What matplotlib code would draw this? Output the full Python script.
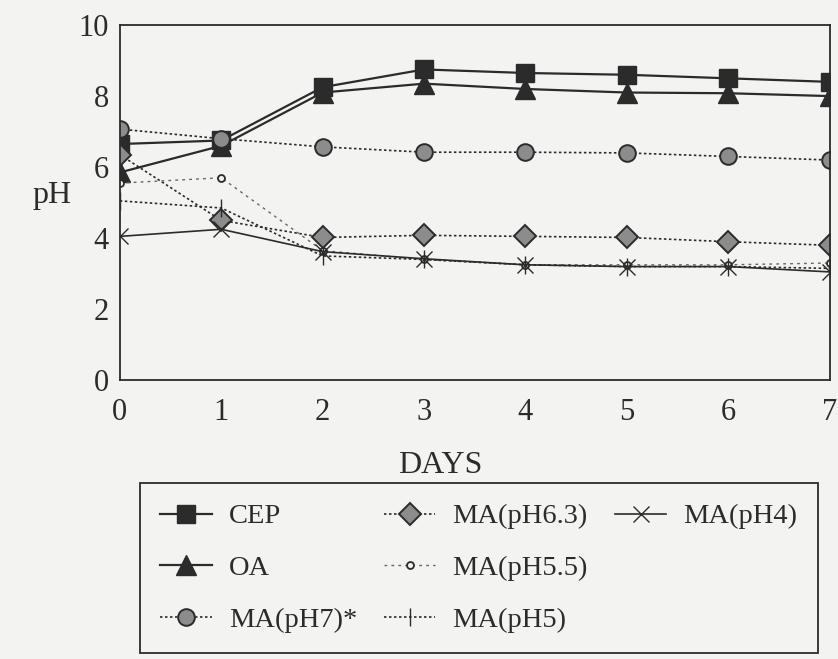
import matplotlib
matplotlib.use("Agg")
import matplotlib.pyplot as plt
from matplotlib.lines import Line2D

days = [0, 1, 2, 3, 4, 5, 6, 7]

cep = [6.65, 6.75, 8.25, 8.75, 8.65, 8.6, 8.5, 8.4]
oa = [5.85, 6.6, 8.1, 8.35, 8.2, 8.1, 8.08, 8.0]
ma_ph7 = [7.07, 6.8, 6.57, 6.42, 6.42, 6.4, 6.3, 6.2]
ma_ph63 = [6.35, 4.5, 4.02, 4.08, 4.05, 4.02, 3.9, 3.8]
ma_ph55 = [5.55, 5.7, 3.65, 3.4, 3.25, 3.25, 3.25, 3.3]
ma_ph5 = [5.05, 4.85, 3.5, 3.4, 3.25, 3.2, 3.2, 3.15]
ma_ph4 = [4.05, 4.25, 3.62, 3.42, 3.25, 3.2, 3.2, 3.05]

yticks = [0, 2, 4, 6, 8, 10]

ink = "#2b2b2b"
paper = "#f3f3f1"
hatch_grey = "#8c8c8c"

plt.rcParams["font.family"] = ["Liberation Serif", "DejaVu Serif"]

fig = plt.figure(figsize=(8.38, 6.59), dpi=100, facecolor=paper)
ax = fig.add_axes([0.143, 0.423, 0.847, 0.539])
ax.set_facecolor(paper)

dot = (0, (1.5, 1.5))
ax.plot(days, cep, color=ink, lw=1.6, ls="-", marker="s", ms=13,
        mfc=ink, mec=ink, label="CEP")
ax.plot(days, oa, color=ink, lw=1.6, ls="-", marker="^", ms=14,
        mfc=ink, mec=ink, label="OA")
ax.plot(days, ma_ph7, color=ink, lw=1.2, ls=dot, marker="o", ms=12,
        mfc=hatch_grey, mec=ink, mew=1.4, label="MA(pH7)*")
ax.plot(days, ma_ph63, color=ink, lw=1.2, ls=dot, marker="D", ms=11,
        mfc=hatch_grey, mec=ink, mew=1.4, label="MA(pH6.3)")
ax.plot(days, ma_ph55, color="#666666", lw=1.0, ls=(0, (2, 3)), marker="o", ms=5,
        mfc=paper, mec=ink, mew=1.3, label="MA(pH5.5)")
ax.plot(days, ma_ph5, color=ink, lw=1.2, ls=dot, marker="|", ms=13,
        mec=ink, mew=1.0, label="MA(pH5)")
ax.plot(days, ma_ph4, color=ink, lw=1.2, ls="-", marker="x", ms=12,
        mec=ink, mew=1.0, label="MA(pH4)")

ax.set_xlim(0, 7)
ax.set_ylim(0, 10)
ax.set_xticks(days)
ax.set_yticks(yticks)
ax.tick_params(length=0, labelsize=22, colors=ink)
ax.tick_params(axis="x", pad=13)
ax.tick_params(axis="y", pad=8)
for s in ax.spines.values():
    s.set_color(ink)
    s.set_linewidth(1.3)
    s.set_clip_on(False)

ax.set_xlabel("DAYS", fontsize=23, color=ink)
ax.xaxis.set_label_coords(0.452, -0.198)
ax.set_ylabel("pH", fontsize=23, color=ink, rotation=0, va="center")
ax.yaxis.set_label_coords(-0.095, 0.52)

# legend: three columns filled 3 / 3 / 1, pad the last column with blanks
handles, labels = ax.get_legend_handles_labels()
blank = Line2D([], [], alpha=0)
handles += [blank, blank]
labels += [" ", " "]
leg = fig.legend(handles, labels, loc="upper left",
                 bbox_to_anchor=(0.167, 0.009, 0.809, 0.258),
                 mode="expand", ncol=3, fontsize=20.5, frameon=True, fancybox=False,
                 edgecolor=ink, facecolor=paper, framealpha=1, handlelength=1.8,
                 handletextpad=0.6, labelspacing=0.9, borderpad=0.72,
                 borderaxespad=0, columnspacing=0.8)
leg.get_frame().set_linewidth(1.3)
for t in leg.get_texts():
    t.set_color(ink)

fig.savefig("out.png", dpi=100, facecolor=paper)
